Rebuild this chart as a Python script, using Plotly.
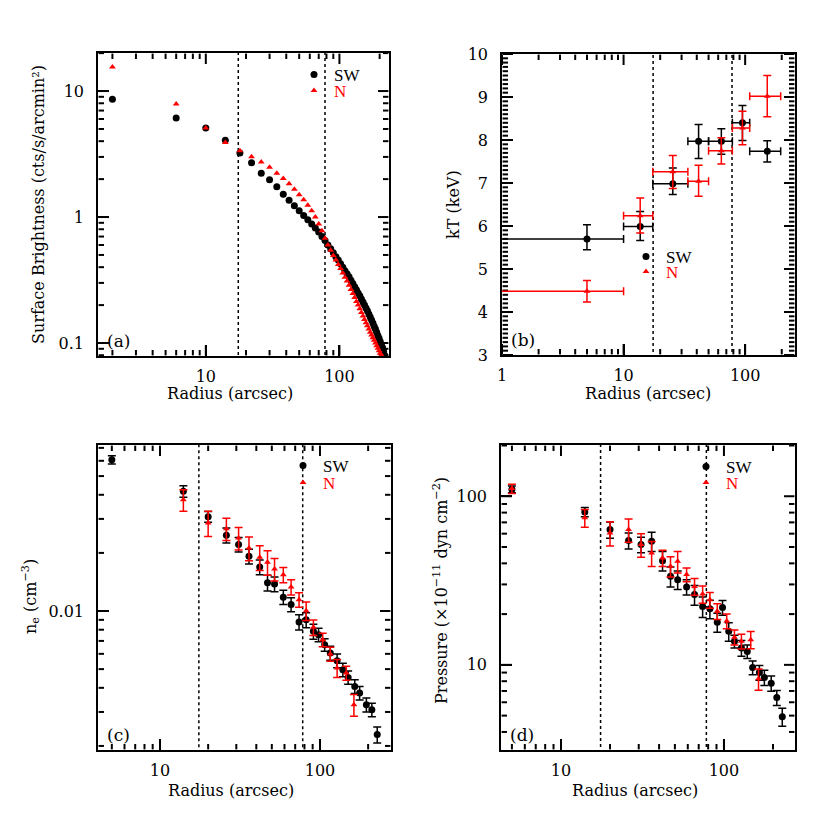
import numpy as np
import plotly.graph_objects as go

# ---- panel (a): surface brightness profile ----
SB_R = [2, 6, 10, 14, 18, 22, 26, 30, 34, 38, 42, 46, 50, 54, 58, 62, 66, 70, 74, 78,
        82, 86, 90, 94, 98, 102, 106, 110, 114, 118, 122, 126, 130, 134, 138, 142, 146,
        150, 154, 158, 162, 166, 170, 174, 178, 182, 186, 190, 194, 198, 202, 206, 210,
        214, 218]
SB_SW = [8.6, 6.1, 5.1, 4.06, 3.22, 2.70, 2.23, 1.98, 1.74, 1.52, 1.36, 1.23, 1.12, 1.03,
         0.95, 0.88, 0.82, 0.76, 0.70, 0.65, 0.60, 0.56, 0.52, 0.485, 0.455, 0.425, 0.40,
         0.375, 0.355, 0.335, 0.315, 0.297, 0.28, 0.265, 0.25, 0.237, 0.224, 0.212, 0.2,
         0.19, 0.18, 0.17, 0.161, 0.152, 0.144, 0.136, 0.129, 0.122, 0.115, 0.109, 0.103,
         0.097, 0.092, 0.086, 0.080]
SB_N = [15.5, 7.9, 5.1, 3.9, 3.36, 3.01, 2.73, 2.48, 2.23, 2.02, 1.84, 1.66, 1.50, 1.37,
        1.24, 1.12, 1.00, 0.88, 0.78, 0.68, 0.60, 0.545, 0.495, 0.455, 0.42, 0.39, 0.36,
        0.333, 0.31, 0.287, 0.266, 0.247, 0.23, 0.214, 0.2, 0.187, 0.175, 0.164, 0.154,
        0.145, 0.137, 0.129, 0.122, 0.116, 0.11, 0.105, 0.1, 0.095, 0.091, 0.087, 0.083,
        0.08, 0.077, 0.074, 0.071]

# ---- panel (b): temperature ----
KT_R = [5, 13.7, 25.4, 41.4, 63.7, 95, 152]
KT_RIN = [0.5, 10, 17.4, 33.8, 50, 78.5, 109]
KT_ROUT = [10, 17.4, 33.8, 50, 78.5, 109, 196]
KT_SW = [5.70, 5.99, 6.98, 7.97, 7.97, 8.40, 7.74]
KT_SW_UP = [0.33, 0.35, 0.37, 0.39, 0.29, 0.40, 0.24]
KT_SW_LO = [0.25, 0.33, 0.25, 0.40, 0.30, 0.41, 0.25]
KT_N = [4.48, 6.24, 7.26, 7.04, 7.75, 8.28, 9.02]
KT_N_UP = [0.25, 0.41, 0.38, 0.37, 0.30, 0.39, 0.48]
KT_N_LO = [0.25, 0.40, 0.39, 0.35, 0.31, 0.39, 0.48]

# ---- panels (c) and (d): density and pressure ----
SW_R = [5, 14, 20, 26, 31, 36, 42, 47, 52, 59, 66, 74, 82, 91, 98, 107, 116, 128, 139,
        150, 165, 177, 195, 211, 228]
NE_SW = [0.0608, 0.0417, 0.0308, 0.0247, 0.0221, 0.0192, 0.0169, 0.0140, 0.0138, 0.0118,
         0.0108, 0.00877, 0.0090, 0.00785, 0.00754, 0.00668, 0.00606, 0.00553, 0.00497,
         0.00453, 0.00407, 0.00376, 0.00327, 0.00308, 0.00229]
NE_SW_ERR = [0.0030, 0.0028, 0.0020, 0.0022, 0.0019, 0.0017, 0.0015, 0.0013, 0.0012,
             0.0010, 0.0009, 0.0008, 0.0008, 0.0007, 0.0006, 0.0005, 0.0005, 0.00045,
             0.0004, 0.00036, 0.00033, 0.0003, 0.00027, 0.00025, 0.00022]
P_SW = [110, 80.7, 63.4, 54.6, 51.7, 54.1, 41.5, 33.5, 32.0, 29.0, 26.1, 22.2, 21.5, 17.9,
        21.9, 15.8, 13.8, 12.6, 12.0, 9.64, 9.0, 8.41, 7.78, 6.40, 4.93]
P_SW_ERR = [5, 5, 7, 6, 5.5, 7, 5.5, 4.5, 4, 3, 3.5, 3.1, 2.7, 2.3, 2.2, 2, 1.2, 1.35, 1.1,
            0.9, 0.9, 0.87, 0.8, 0.65, 0.6]

N_R = [14, 20, 26, 31, 36, 42, 47, 52, 59, 66, 74, 82, 91, 104, 116, 128, 146, 163]
NE_N = [0.0377, 0.0286, 0.0267, 0.0239, 0.0212, 0.0190, 0.0179, 0.0165, 0.0154, 0.0133,
        0.01145, 0.01004, 0.00823, 0.0071, 0.00599, 0.00507, 0.00478, 0.00327]
NE_N_ERR = [0.0048, 0.0043, 0.0035, 0.0032, 0.0030, 0.0028, 0.0026, 0.0022, 0.0014, 0.0012,
            0.0010, 0.0011, 0.00076, 0.00057, 0.0005, 0.00054, 0.0004, 0.00042]
P_N_R = [5, 14, 20, 26, 31, 36, 42, 47, 52, 59, 66, 74, 82, 91, 104, 116, 128, 146, 163]
P_N = [111, 74.5, 60.6, 63.4, 51.7, 46.1, 43.1, 38.5, 41.1, 34.3, 29.2, 26.3, 24.3, 20.8,
       18.2, 14.6, 13.8, 14.1, 8.26]
P_N_ERR = [7, 9, 9.9, 10, 8.2, 7.8, 4.8, 5.3, 6, 3.2, 3.3, 3.1, 2.6, 2.2, 1.8, 1.5, 1.4,
           1.65, 1.2]

DIVIDES = [17.5, 78]

SERIF = 'DejaVu Serif'
RED = '#ff0000'
W = 830.0

# panel boxes (px from top-left), axis ranges and labelled ticks
PANELS = [
    dict(x='x', y='y', box=(90, 45, 381, 348),
         xr=[np.log10(1.56), np.log10(235)], yr=[-1.103, 1.302], ylog=True,
         xt=[10, 100], yt=[0.1, 1, 10]),
    dict(x='x2', y='y2', box=(494, 46, 787, 347),
         xr=[0, 2.41], yr=[3, 10], ylog=False,
         xt=[1, 10, 100], yt=[3, 4, 5, 6, 7, 8, 9, 10]),
    dict(x='x3', y='y3', box=(90, 437, 383, 742),
         xr=[0.6125, 2.444], yr=[-2.72, -1.14], ylog=True,
         xt=[10, 100], yt=[0.01]),
    dict(x='x4', y='y4', box=(493, 437, 787, 742),
         xr=[0.632, 2.436], yr=[0.495, 2.304], ylog=True,
         xt=[10, 100], yt=[10, 100]),
]

fig = go.Figure()


def err(arr, color, arrminus=None):
    d = dict(type='data', array=arr, color=color, thickness=1.5, width=4, visible=True)
    if arrminus is not None:
        d['arrayminus'] = arrminus
        d['symmetric'] = False
    return d


for p in PANELS:
    for r in DIVIDES:
        fig.add_trace(go.Scatter(x=[r, r], y=[1e-6, 1e6], mode='lines', xaxis=p['x'],
                                 yaxis=p['y'], line=dict(color='black', width=1.5, dash='dot'),
                                 showlegend=False, hoverinfo='skip'))


# ---- inward tick marks on all four sides, one short line trace per tick ----
def log_minor(rng):
    out = []
    for k in range(int(np.floor(rng[0])) - 1, int(np.ceil(rng[1])) + 1):
        for m in range(2, 10):
            v = m * 10.0 ** k
            if rng[0] < np.log10(v) < rng[1]:
                out.append(v)
    return out


def lin_minor(rng, step):
    n0, n1 = int(np.ceil(rng[0] / step)), int(np.floor(rng[1] / step))
    return [round(k * step, 3) for k in range(n0, n1 + 1)
            if abs(k * step - round(k * step)) > 1e-6]


def at_frac(rng, f, log):
    v = rng[0] + f * (rng[1] - rng[0])
    return float(10 ** v) if log else float(v)


MAJ, MIN = 11.0, 6.0
tick_style = dict(color='black', width=2)
for p in PANELS:
    l, t, r, b = p['box']
    wpx, hpx = r - l, b - t
    xminor = log_minor(p['xr'])
    yminor = log_minor(p['yr']) if p['ylog'] else lin_minor(p['yr'], 0.1)
    for vals, ln in [(p['xt'], MAJ), (xminor, MIN)]:
        f = ln / hpx
        for v in vals:
            for f0, f1 in [(0.002, f), (0.998, 1 - f)]:
                fig.add_trace(go.Scatter(
                    x=[float(v), float(v)],
                    y=[at_frac(p['yr'], f0, p['ylog']), at_frac(p['yr'], f1, p['ylog'])],
                    mode='lines', line=tick_style, xaxis=p['x'], yaxis=p['y'],
                    showlegend=False, hoverinfo='skip'))
    for vals, ln in [(p['yt'], MAJ), (yminor, MIN)]:
        f = ln / wpx
        for v in vals:
            for f0, f1 in [(0.002, f), (0.998, 1 - f)]:
                fig.add_trace(go.Scatter(
                    x=[at_frac(p['xr'], f0, True), at_frac(p['xr'], f1, True)],
                    y=[float(v), float(v)],
                    mode='lines', line=tick_style, xaxis=p['x'], yaxis=p['y'],
                    showlegend=False, hoverinfo='skip'))

sw_mk = dict(symbol='circle', size=7, color='black')
n_mk = dict(symbol='triangle-up', size=6, color=RED)
n_name = '<span style="color:#ff0000">N</span>'

# (a)
fig.add_trace(go.Scatter(x=SB_R, y=SB_SW, mode='markers', marker=sw_mk, name='SW',
                         xaxis='x', yaxis='y', legend='legend'))
fig.add_trace(go.Scatter(x=SB_R, y=SB_N, mode='markers', marker=n_mk, name=n_name,
                         xaxis='x', yaxis='y', legend='legend2'))

# (b)
ex_plus = [o - r for o, r in zip(KT_ROUT, KT_R)]
ex_minus = [r - i for i, r in zip(KT_RIN, KT_R)]
fig.add_trace(go.Scatter(x=KT_R, y=KT_SW, mode='markers', marker=sw_mk, name='SW',
                         error_y=err(KT_SW_UP, 'black', KT_SW_LO),
                         error_x=err(ex_plus, 'black', ex_minus),
                         xaxis='x2', yaxis='y2', legend='legend3'))
fig.add_trace(go.Scatter(x=KT_R, y=KT_N, mode='markers', marker=n_mk, name=n_name,
                         error_y=err(KT_N_UP, RED, KT_N_LO),
                         error_x=err(ex_plus, RED, ex_minus),
                         xaxis='x2', yaxis='y2', legend='legend4'))

# (c)
fig.add_trace(go.Scatter(x=SW_R, y=NE_SW, mode='markers', marker=sw_mk, name='SW',
                         error_y=err(NE_SW_ERR, 'black'), xaxis='x3', yaxis='y3', legend='legend5'))
fig.add_trace(go.Scatter(x=N_R, y=NE_N, mode='markers', marker=n_mk, name=n_name,
                         error_y=err(NE_N_ERR, RED), xaxis='x3', yaxis='y3', legend='legend6'))

# (d)
fig.add_trace(go.Scatter(x=SW_R, y=P_SW, mode='markers', marker=sw_mk, name='SW',
                         error_y=err(P_SW_ERR, 'black'), xaxis='x4', yaxis='y4', legend='legend7'))
fig.add_trace(go.Scatter(x=P_N_R, y=P_N, mode='markers', marker=n_mk, name=n_name,
                         error_y=err(P_N_ERR, RED), xaxis='x4', yaxis='y4', legend='legend8'))


def ax(domain, rng, log, tickvals, anchor, isx):
    d = dict(domain=domain, range=rng, showline=True, linecolor='black', linewidth=1.5,
             mirror=True, ticks='inside', ticklen=11, tickwidth=2, tickcolor='black',
             showgrid=False, zeroline=False, anchor=anchor, automargin=False,
             ticklabelstandoff=5 if isx else 9,
             tickfont=dict(family=SERIF, size=16, color='black'),
             tickmode='array', tickvals=tickvals, ticktext=[('%g' % v) for v in tickvals])
    if log:
        d['type'] = 'log'
    return d


lay = {}
for i, p in enumerate(PANELS):
    l, t, r, b = p['box']
    sfx = '' if i == 0 else str(i + 1)
    lay['xaxis' + sfx] = ax([l / W, r / W], p['xr'], True, p['xt'], p['y'], True)
    lay['yaxis' + sfx] = ax([1 - b / W, 1 - t / W], p['yr'], p['ylog'], p['yt'], p['x'], False)
fig.update_layout(lay)
fig.update_layout(width=830, height=830, margin=dict(l=0, r=0, t=0, b=0),
                  paper_bgcolor='white', plot_bgcolor='white')

# one legend box per entry so each key sits where the original puts it
leg = dict(font=dict(family='Liberation Serif', size=17, color='black'),
           bgcolor='rgba(0,0,0,0)', xanchor='left', yanchor='top', itemwidth=30)
legend_pos = {'legend': (286, 49), 'legend2': (286, 65),
              'legend3': (618, 231), 'legend4': (618, 246),
              'legend5': (275, 440), 'legend6': (275, 457),
              'legend7': (678, 441), 'legend8': (678, 457)}
fig.update_layout({k: dict(leg, x=px / W, y=1 - py / W) for k, (px, py) in legend_pos.items()})

# axis titles
title_font = dict(family=SERIF, size=16, color='black')
for cx, cy in [(222, 385), (640, 385), (223, 782), (627, 782)]:
    fig.add_annotation(text='Radius (arcsec)', xref='paper', yref='paper', x=cx / W,
                       y=1 - cy / W, xanchor='center', yanchor='middle', showarrow=False,
                       font=title_font)
y_titles = [('Surface Brightness (cts/s/arcmin²)', 30, 197),
            ('kT (keV)', 445, 197),
            ('n<sub>e</sub> (cm<sup>−3</sup>)', 22, 589),
            ('Pressure (×10<sup>−11</sup> dyn cm<sup>−2</sup>)', 432, 583)]
for txt, cx, cy in y_titles:
    fig.add_annotation(text=txt, xref='paper', yref='paper', x=cx / W, y=1 - cy / W,
                       xanchor='center', yanchor='middle', textangle=-90, showarrow=False,
                       font=title_font)

for lab, xr, yr in [('(a)', 'x', 'y'), ('(b)', 'x2', 'y2'), ('(c)', 'x3', 'y3'), ('(d)', 'x4', 'y4')]:
    fig.add_annotation(text=lab, xref=xr + ' domain', yref=yr + ' domain', x=0.025, y=0.01,
                       xanchor='left', yanchor='bottom', showarrow=False,
                       font=dict(family=SERIF, size=17, color='black'))

fig.write_html("out.html")
